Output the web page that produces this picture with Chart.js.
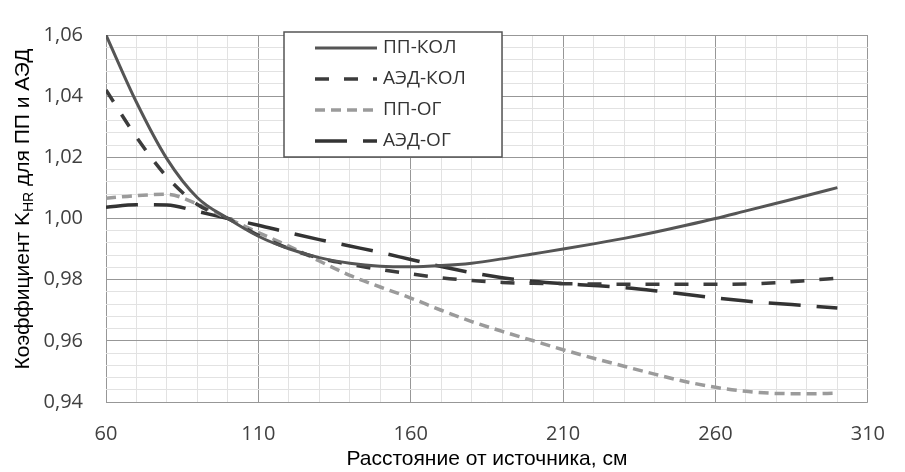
<!DOCTYPE html>
<html>
<head>
<meta charset="utf-8">
<script src="https://cdn.jsdelivr.net/npm/chart.js@4.4.0/dist/chart.umd.min.js"></script>
<style>
  html, body { margin: 0; padding: 0; background: #fff; }
</style>
</head>
<body>
<canvas id="chart" width="905" height="472"></canvas>
<script>
// Distance from the source, cm
const distances = [60, 70, 80, 90, 100, 110, 120, 130, 140, 150, 160, 170, 180,
    190, 200, 210, 220, 230, 240, 250, 260, 270, 280, 290, 300];

// K_HR coefficient for each series
const ppKol = [1.060, 1.0380, 1.0195, 1.0068, 1.000, 0.9942, 0.9901, 0.9872, 0.9854,
    0.9844, 0.9842, 0.9846, 0.9854, 0.9868, 0.9884, 0.9900, 0.9917, 0.9935, 0.9955,
    0.9977, 1.0000, 1.0025, 1.0050, 1.0075, 1.0101];
const aedKol = [1.042, 1.0266, 1.0136, 1.0046, 1.000, 0.9945, 0.9902, 0.9870, 0.9850,
    0.9833, 0.9819, 0.9806, 0.9797, 0.9791, 0.9788, 0.9787, 0.9786, 0.9785, 0.9785,
    0.9785, 0.9785, 0.9786, 0.9790, 0.9797, 0.9805];
const ppOg = [1.0066, 1.0075, 1.0079, 1.0047, 1.000, 0.9954, 0.9910, 0.9861, 0.9814,
    0.9776, 0.9740, 0.9700, 0.9663, 0.9631, 0.9601, 0.9571, 0.9543, 0.9517, 0.9491,
    0.9467, 0.9448, 0.9435, 0.9428, 0.9427, 0.9429];
const aedOg = [1.0037, 1.0045, 1.0044, 1.0023, 1.000, 0.9978, 0.9954, 0.9931, 0.9910,
    0.9889, 0.9866, 0.9843, 0.9823, 0.9806, 0.9795, 0.9787, 0.9781, 0.9774, 0.9764,
    0.9752, 0.9740, 0.9730, 0.9722, 0.9715, 0.9707];

// Labelled (major) ticks
const xMajor = [60, 110, 160, 210, 260, 310];
const yMajor = [0.94, 0.96, 0.98, 1.00, 1.02, 1.04, 1.06];

const majorGrid = '#979797';
const minorGrid = '#e2e2e2';

function isMajor(list, v) {
    return list.some((m) => Math.abs(m - v) < 1e-6);
}

function points(values) {
    return distances.map((d, i) => ({ x: d, y: values[i] }));
}

// Rotated y-axis title with the "HR" subscript
const yTitlePlugin = {
    id: 'yTitle',
    afterDraw(chart) {
        const ctx = chart.ctx;
        const parts = [
            { text: 'Коэффициент K', size: 21, dy: 0 },
            { text: 'HR', size: 14, dy: 4 },
            { text: ' для ПП и АЭД', size: 21, dy: 0 },
        ];
        ctx.save();
        ctx.translate(29, 209);
        ctx.rotate(-Math.PI / 2);
        ctx.fillStyle = '#000';
        ctx.textBaseline = 'alphabetic';
        let total = 0;
        parts.forEach((p) => {
            ctx.font = p.size + 'px "Liberation Sans", Arial, sans-serif';
            p.w = ctx.measureText(p.text).width;
            total += p.w;
        });
        let x = -total / 2;
        parts.forEach((p) => {
            ctx.font = p.size + 'px "Liberation Sans", Arial, sans-serif';
            ctx.fillText(p.text, x, p.dy);
            x += p.w;
        });
        ctx.restore();
    },
};

// Boxed legend inside the plot area
const boxLegendPlugin = {
    id: 'boxLegend',
    afterDatasetsDraw(chart) {
        const ctx = chart.ctx;
        const box = { left: 284, top: 32, width: 218, height: 125 };
        ctx.save();
        ctx.fillStyle = '#fff';
        ctx.fillRect(box.left, box.top, box.width, box.height);
        ctx.strokeStyle = '#555';
        ctx.lineWidth = 1.5;
        ctx.strokeRect(box.left, box.top, box.width, box.height);

        ctx.font = '19px "Open Sans", sans-serif';
        ctx.textBaseline = 'middle';
        chart.data.datasets.forEach((ds, i) => {
            const y = 48 + i * 31;
            ctx.beginPath();
            ctx.strokeStyle = ds.borderColor;
            ctx.lineWidth = ds.borderWidth;
            ctx.setLineDash(ds.borderDash || []);
            ctx.moveTo(315, y);
            ctx.lineTo(377, y);
            ctx.stroke();
            ctx.setLineDash([]);
            ctx.fillStyle = '#333';
            ctx.fillText(ds.label, 383, y);
        });
        ctx.restore();
    },
};

function lineDataset(label, values, color, width, dash) {
    return {
        label: label,
        data: points(values),
        borderColor: color,
        borderWidth: width,
        borderDash: dash,
        pointRadius: 0,
        fill: false,
        cubicInterpolationMode: 'monotone',
    };
}

new Chart(document.getElementById('chart'), {
    type: 'line',
    data: {
        datasets: [
            lineDataset('ПП-КОЛ', ppKol, '#555555', 3, []),
            lineDataset('АЭД-КОЛ', aedKol, '#3c3c3c', 3.5, [14, 15]),
            lineDataset('ПП-ОГ', ppOg, '#9b9b9b', 3.5, [10, 6]),
            lineDataset('АЭД-ОГ', aedOg, '#333333', 3.5, [32, 16]),
        ],
    },
    options: {
        responsive: false,
        devicePixelRatio: 1,
        animation: false,
        layout: {
            padding: { left: 0, top: 22, right: 19, bottom: 0 },
        },
        plugins: {
            legend: { display: false },
            tooltip: { enabled: false },
        },
        scales: {
            x: {
                type: 'linear',
                min: 60,
                max: 310,
                afterFit: (scale) => { scale.height = 70; },
                ticks: {
                    stepSize: 10,
                    autoSkip: false,
                    maxRotation: 0,
                    padding: 20,
                    color: '#404040',
                    font: { family: 'Open Sans', size: 20 },
                    callback: (v) => (isMajor(xMajor, v) ? String(v) : ''),
                },
                grid: {
                    color: (c) => (isMajor(xMajor, c.tick.value) ? majorGrid : minorGrid),
                    drawTicks: false,
                    lineWidth: 1,
                },
                border: { display: false },
                title: {
                    display: true,
                    text: 'Расстояние от источника, см',
                    color: '#000',
                    font: { family: 'Liberation Sans', size: 21 },
                    padding: 0,
                },
            },
            y: {
                min: 0.94,
                max: 1.06,
                afterFit: (scale) => { scale.width = 106; },
                ticks: {
                    stepSize: 0.004,
                    autoSkip: false,
                    padding: 23,
                    color: '#404040',
                    font: { family: 'Open Sans', size: 20 },
                    callback: (v) => (isMajor(yMajor, v) ? v.toFixed(2).replace('.', ',') : ''),
                },
                grid: {
                    color: (c) => (isMajor(yMajor, c.tick.value) ? majorGrid : minorGrid),
                    drawTicks: false,
                    lineWidth: 1,
                },
                border: { display: false },
            },
        },
    },
    plugins: [yTitlePlugin, boxLegendPlugin],
});
</script>
</body>
</html>
